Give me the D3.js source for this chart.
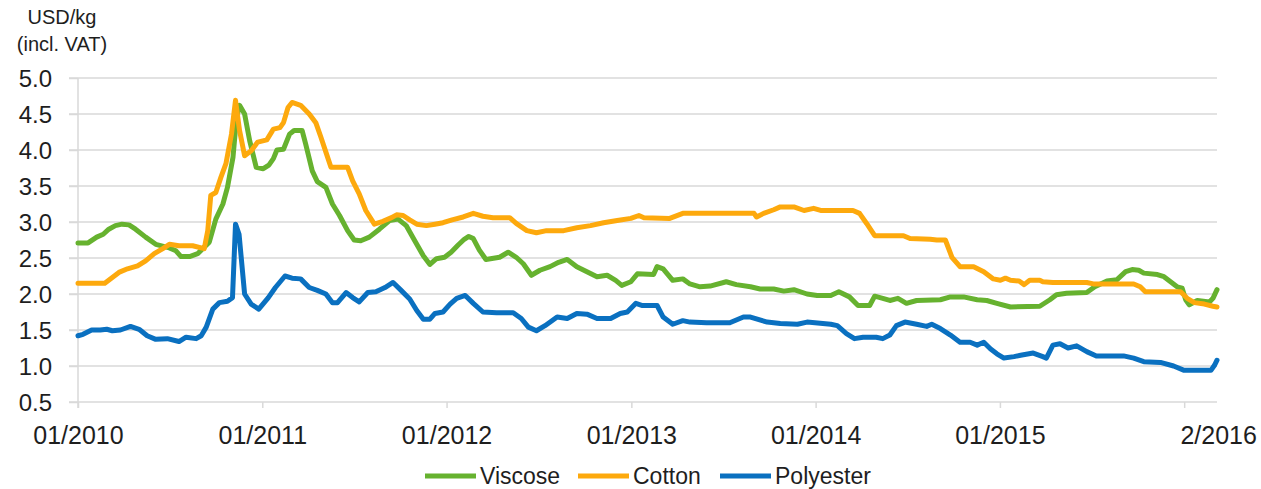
<!DOCTYPE html>
<html>
<head>
<meta charset="utf-8">
<script src="https://cdn.jsdelivr.net/npm/d3@7"></script>
<style>
  html, body { margin: 0; padding: 0; background: #fff; }
  svg { display: block; font-family: "Liberation Sans", Arial, sans-serif; }
</style>
</head>
<body>
<svg id="chart" width="1261" height="489"></svg>
<script>
// ---------- data ----------
const seriesNames = ["Viscose", "Cotton", "Polyester"];
const seriesColors = ["#66B22F", "#FDA90D", "#0A70C0"];
const yTicks = [0.5, 1.0, 1.5, 2.0, 2.5, 3.0, 3.5, 4.0, 4.5, 5.0];
const xTickDates = ["2010-01-01", "2011-01-01", "2012-01-01", "2013-01-01", "2014-01-01", "2015-01-01", "2016-01-01"];
const xTickLabels = ["01/2010", "01/2011", "01/2012", "01/2013", "01/2014", "01/2015", "2/2016"];
const dateRange = ["2010-01-01", "2016-03-06"];
const unitLines = ["USD/kg", "(incl. VAT)"];

const viscose = [
  ["2010-01-01",2.71],["2010-01-21",2.71],["2010-02-07",2.79],["2010-02-20",2.83],["2010-03-03",2.90],
  ["2010-03-16",2.95],["2010-03-29",2.97],["2010-04-12",2.96],["2010-04-25",2.90],["2010-05-15",2.79],
  ["2010-06-04",2.69],["2010-07-01",2.64],["2010-07-14",2.60],["2010-07-24",2.52],["2010-08-10",2.52],
  ["2010-08-26",2.56],["2010-09-05",2.63],["2010-09-18",2.72],["2010-10-01",3.04],["2010-10-15",3.25],
  ["2010-10-24",3.48],["2010-11-04",3.90],["2010-11-11",4.45],["2010-11-17",4.62],["2010-11-27",4.50],
  ["2010-12-07",4.13],["2010-12-20",3.76],["2011-01-03",3.74],["2011-01-14",3.79],["2011-01-23",3.88],
  ["2011-01-30",4.00],["2011-02-12",4.01],["2011-02-24",4.22],["2011-03-05",4.27],["2011-03-21",4.27],
  ["2011-03-28",4.08],["2011-04-10",3.71],["2011-04-20",3.56],["2011-05-07",3.48],["2011-05-20",3.25],
  ["2011-06-03",3.09],["2011-06-19",2.88],["2011-07-02",2.75],["2011-07-15",2.74],["2011-08-01",2.79],
  ["2011-08-21",2.90],["2011-09-10",3.02],["2011-09-27",3.04],["2011-10-13",2.95],["2011-10-30",2.74],
  ["2011-11-16",2.53],["2011-11-29",2.41],["2011-12-12",2.49],["2011-12-28",2.51],["2012-01-10",2.58],
  ["2012-01-24",2.68],["2012-02-05",2.76],["2012-02-14",2.80],["2012-02-23",2.77],["2012-03-06",2.61],
  ["2012-03-19",2.48],["2012-04-15",2.51],["2012-05-02",2.58],["2012-05-18",2.51],["2012-06-01",2.42],
  ["2012-06-17",2.26],["2012-07-04",2.33],["2012-07-24",2.38],["2012-08-10",2.44],["2012-08-27",2.48],
  ["2012-09-15",2.38],["2012-10-05",2.31],["2012-10-25",2.24],["2012-11-14",2.26],["2012-12-01",2.19],
  ["2012-12-13",2.12],["2012-12-31",2.17],["2013-01-13",2.28],["2013-02-14",2.27],["2013-02-21",2.38],
  ["2013-03-05",2.35],["2013-03-24",2.19],["2013-04-13",2.21],["2013-04-27",2.14],["2013-05-17",2.10],
  ["2013-06-06",2.11],["2013-07-08",2.17],["2013-07-28",2.13],["2013-08-25",2.10],["2013-09-13",2.07],
  ["2013-10-10",2.07],["2013-10-30",2.04],["2013-11-19",2.06],["2013-12-15",2.00],["2014-01-04",1.98],
  ["2014-01-31",1.98],["2014-02-16",2.03],["2014-03-09",1.96],["2014-03-26",1.84],["2014-04-18",1.84],
  ["2014-04-28",1.97],["2014-05-14",1.94],["2014-05-28",1.91],["2014-06-13",1.94],["2014-06-30",1.87],
  ["2014-07-20",1.91],["2014-09-05",1.92],["2014-09-25",1.96],["2014-10-21",1.96],["2014-11-17",1.92],
  ["2014-12-06",1.91],["2014-12-26",1.87],["2015-01-22",1.82],["2015-03-21",1.83],["2015-04-10",1.92],
  ["2015-04-23",1.99],["2015-05-13",2.01],["2015-06-22",2.02],["2015-07-08",2.10],["2015-08-01",2.18],
  ["2015-08-21",2.20],["2015-09-07",2.31],["2015-09-20",2.34],["2015-10-03",2.33],["2015-10-13",2.29],
  ["2015-11-09",2.27],["2015-11-22",2.24],["2015-12-05",2.17],["2015-12-18",2.10],["2015-12-28",2.08],
  ["2016-01-04",1.92],["2016-01-11",1.85],["2016-01-27",1.91],["2016-02-20",1.89],["2016-02-27",1.94],
  ["2016-03-06",2.06]
];

const cotton = [
  ["2010-01-01",2.15],["2010-02-23",2.15],["2010-03-10",2.23],["2010-03-23",2.30],["2010-04-09",2.35],
  ["2010-04-29",2.39],["2010-05-15",2.46],["2010-06-01",2.56],["2010-06-18",2.63],["2010-07-01",2.69],
  ["2010-07-20",2.67],["2010-08-16",2.67],["2010-09-08",2.63],["2010-09-15",2.88],["2010-09-21",3.37],
  ["2010-10-01",3.41],["2010-10-11",3.62],["2010-10-21",3.81],["2010-11-01",4.22],["2010-11-09",4.69],
  ["2010-11-17",4.27],["2010-11-27",3.92],["2010-12-10",3.99],["2010-12-23",4.11],["2011-01-10",4.14],
  ["2011-01-23",4.29],["2011-02-05",4.31],["2011-02-12",4.38],["2011-02-21",4.59],["2011-03-01",4.66],
  ["2011-03-18",4.62],["2011-04-04",4.50],["2011-04-17",4.38],["2011-04-27",4.18],["2011-05-07",3.97],
  ["2011-05-17",3.76],["2011-06-19",3.76],["2011-06-29",3.57],["2011-07-12",3.39],["2011-07-25",3.16],
  ["2011-08-11",2.97],["2011-08-28",3.01],["2011-09-14",3.06],["2011-09-24",3.10],["2011-10-07",3.09],
  ["2011-10-20",3.03],["2011-11-03",2.97],["2011-11-22",2.95],["2011-12-09",2.97],["2011-12-25",2.99],
  ["2012-01-12",3.03],["2012-02-03",3.07],["2012-02-23",3.12],["2012-03-13",3.08],["2012-04-02",3.06],
  ["2012-05-05",3.06],["2012-05-18",2.98],["2012-06-08",2.88],["2012-06-27",2.85],["2012-07-17",2.88],
  ["2012-08-20",2.88],["2012-09-15",2.92],["2012-10-12",2.95],["2012-11-07",2.99],["2012-12-04",3.02],
  ["2012-12-31",3.05],["2013-01-16",3.09],["2013-01-26",3.06],["2013-03-18",3.05],["2013-04-13",3.12],
  ["2013-09-01",3.12],["2013-09-06",3.07],["2013-09-20",3.12],["2013-10-10",3.17],["2013-10-23",3.21],
  ["2013-11-19",3.21],["2013-12-09",3.16],["2013-12-28",3.19],["2014-01-11",3.16],["2014-03-16",3.16],
  ["2014-03-29",3.12],["2014-04-12",2.98],["2014-04-28",2.81],["2014-06-24",2.81],["2014-07-07",2.77],
  ["2014-08-16",2.76],["2014-08-29",2.75],["2014-09-15",2.75],["2014-09-28",2.51],["2014-10-14",2.38],
  ["2014-11-10",2.38],["2014-11-30",2.31],["2014-12-19",2.21],["2015-01-02",2.19],["2015-01-12",2.22],
  ["2015-01-22",2.19],["2015-02-08",2.18],["2015-02-18",2.13],["2015-03-01",2.19],["2015-03-21",2.19],
  ["2015-03-27",2.17],["2015-04-16",2.16],["2015-06-22",2.16],["2015-07-05",2.14],["2015-09-23",2.14],
  ["2015-10-06",2.10],["2015-10-16",2.03],["2015-12-25",2.03],["2016-01-07",1.94],["2016-01-21",1.88],
  ["2016-02-10",1.86],["2016-02-27",1.83],["2016-03-06",1.82]
];

const polyester = [
  ["2010-01-01",1.42],["2010-01-11",1.44],["2010-01-28",1.50],["2010-02-14",1.50],["2010-02-27",1.51],
  ["2010-03-10",1.49],["2010-03-26",1.50],["2010-04-15",1.55],["2010-05-02",1.51],["2010-05-18",1.42],
  ["2010-06-04",1.37],["2010-06-27",1.38],["2010-07-20",1.34],["2010-08-03",1.40],["2010-08-23",1.38],
  ["2010-09-02",1.42],["2010-09-12",1.54],["2010-09-25",1.79],["2010-10-08",1.88],["2010-10-24",1.90],
  ["2010-11-03",1.95],["2010-11-09",2.97],["2010-11-16",2.83],["2010-11-27",2.00],["2010-12-10",1.86],
  ["2010-12-25",1.79],["2011-01-13",1.95],["2011-01-27",2.09],["2011-02-15",2.25],["2011-03-01",2.22],
  ["2011-03-18",2.21],["2011-04-04",2.09],["2011-04-20",2.05],["2011-05-07",2.00],["2011-05-20",1.88],
  ["2011-05-30",1.88],["2011-06-16",2.02],["2011-06-29",1.95],["2011-07-12",1.89],["2011-07-29",2.02],
  ["2011-08-14",2.03],["2011-09-01",2.09],["2011-09-17",2.16],["2011-10-03",2.05],["2011-10-20",1.93],
  ["2011-11-03",1.77],["2011-11-16",1.65],["2011-11-29",1.65],["2011-12-09",1.73],["2011-12-25",1.75],
  ["2012-01-08",1.86],["2012-01-21",1.94],["2012-02-07",1.98],["2012-02-23",1.87],["2012-03-13",1.75],
  ["2012-04-09",1.74],["2012-05-12",1.74],["2012-05-28",1.66],["2012-06-11",1.54],["2012-06-27",1.49],
  ["2012-07-14",1.56],["2012-08-07",1.68],["2012-08-27",1.66],["2012-09-15",1.73],["2012-10-05",1.72],
  ["2012-10-25",1.66],["2012-11-21",1.66],["2012-12-10",1.73],["2012-12-24",1.75],["2013-01-10",1.87],
  ["2013-01-23",1.84],["2013-02-21",1.84],["2013-03-05",1.68],["2013-03-24",1.58],["2013-04-13",1.63],
  ["2013-04-27",1.61],["2013-05-30",1.60],["2013-07-15",1.60],["2013-08-11",1.68],["2013-08-25",1.68],
  ["2013-09-27",1.61],["2013-10-23",1.59],["2013-11-26",1.58],["2013-12-15",1.61],["2014-01-31",1.58],
  ["2014-02-13",1.56],["2014-03-03",1.45],["2014-03-19",1.38],["2014-04-05",1.40],["2014-05-01",1.40],
  ["2014-05-14",1.38],["2014-05-28",1.43],["2014-06-10",1.56],["2014-06-27",1.61],["2014-07-20",1.58],
  ["2014-08-09",1.55],["2014-08-19",1.58],["2014-09-05",1.52],["2014-09-25",1.43],["2014-10-14",1.33],
  ["2014-11-03",1.33],["2014-11-17",1.29],["2014-11-30",1.33],["2014-12-13",1.24],["2014-12-26",1.17],
  ["2015-01-09",1.11],["2015-01-29",1.13],["2015-02-11",1.15],["2015-03-08",1.18],["2015-03-27",1.13],
  ["2015-04-03",1.11],["2015-04-16",1.29],["2015-04-30",1.31],["2015-05-16",1.25],["2015-06-02",1.28],
  ["2015-06-22",1.20],["2015-07-11",1.14],["2015-09-03",1.14],["2015-09-23",1.11],["2015-10-13",1.06],
  ["2015-11-15",1.05],["2015-12-11",1.00],["2016-01-01",0.94],["2016-02-23",0.94],["2016-03-01",1.01],
  ["2016-03-06",1.08]
];

const seriesData = [viscose, cotton, polyester];

// ---------- layout ----------
const M = { left: 78, right: 1217, top: 78, bottom: 402 };
const parse = d3.timeParse("%Y-%m-%d");
const svg = d3.select("#chart");

const x = d3.scaleTime().domain(dateRange.map(parse)).range([M.left, M.right]);
const y = d3.scaleLinear().domain([0.5, 5.0]).range([M.bottom, M.top]);

const gridColor = "#D9D9D9";
const textColor = "#1E1E1E";

// horizontal gridlines
svg.append("g").selectAll("line").data(yTicks).join("line")
  .attr("x1", M.left - 9).attr("x2", M.right)
  .attr("y1", d => y(d)).attr("y2", d => y(d))
  .attr("stroke", gridColor).attr("stroke-width", 1.5);

// y axis
const yAxis = svg.append("g").attr("transform", `translate(${M.left},0)`)
  .call(d3.axisLeft(y).tickValues(yTicks).tickFormat(d3.format(".1f")).tickSize(9).tickPadding(17).tickSizeOuter(0));
yAxis.select(".domain").remove();
yAxis.selectAll(".tick line").attr("stroke", gridColor).attr("stroke-width", 1.5);
yAxis.selectAll(".tick text").attr("fill", textColor).style("font-size", "24px").attr("dy", "0.36em");
svg.append("line").attr("x1", M.left).attr("x2", M.left).attr("y1", M.top).attr("y2", M.bottom + 6)
  .attr("stroke", gridColor).attr("stroke-width", 1.5);

// x axis
const xAxis = svg.append("g").attr("transform", `translate(0,${M.bottom})`)
  .call(d3.axisBottom(x).tickValues(xTickDates.map(parse))
    .tickFormat((d, i) => xTickLabels[i]).tickSize(6).tickPadding(18).tickSizeOuter(0));
xAxis.select(".domain").remove();
xAxis.selectAll(".tick line").attr("stroke", gridColor).attr("stroke-width", 1.5);
xAxis.selectAll(".tick text").attr("fill", textColor).style("font-size", "25px")
  .attr("dx", (d, i) => i === xTickLabels.length - 1 ? 34 : 0);

// unit label
svg.append("g").selectAll("text").data(unitLines).join("text")
  .attr("x", 62).attr("y", (d, i) => 24 + i * 27)
  .attr("text-anchor", "middle").attr("fill", textColor)
  .style("font-size", "20px").text(d => d);

// lines
const line = d3.line().x(d => x(parse(d[0]))).y(d => y(d[1]));
svg.append("g").selectAll("path").data(seriesData).join("path")
  .attr("d", d => line(d)).attr("fill", "none")
  .attr("stroke", (d, i) => seriesColors[i]).attr("stroke-width", 5)
  .attr("stroke-linejoin", "round").attr("stroke-linecap", "round");

// legend
const legendX = [425, 578, 720];
const lg = svg.append("g").selectAll("g").data(seriesNames).join("g")
  .attr("transform", (d, i) => `translate(${legendX[i]},476)`);
lg.append("line").attr("x1", 0).attr("x2", 51).attr("y1", 0).attr("y2", 0)
  .attr("stroke", (d, i) => seriesColors[i]).attr("stroke-width", 5);
lg.append("text").attr("x", 55).attr("y", 0).attr("dy", "0.36em")
  .attr("fill", textColor).style("font-size", "23px").text(d => d);
</script>
</body>
</html>
